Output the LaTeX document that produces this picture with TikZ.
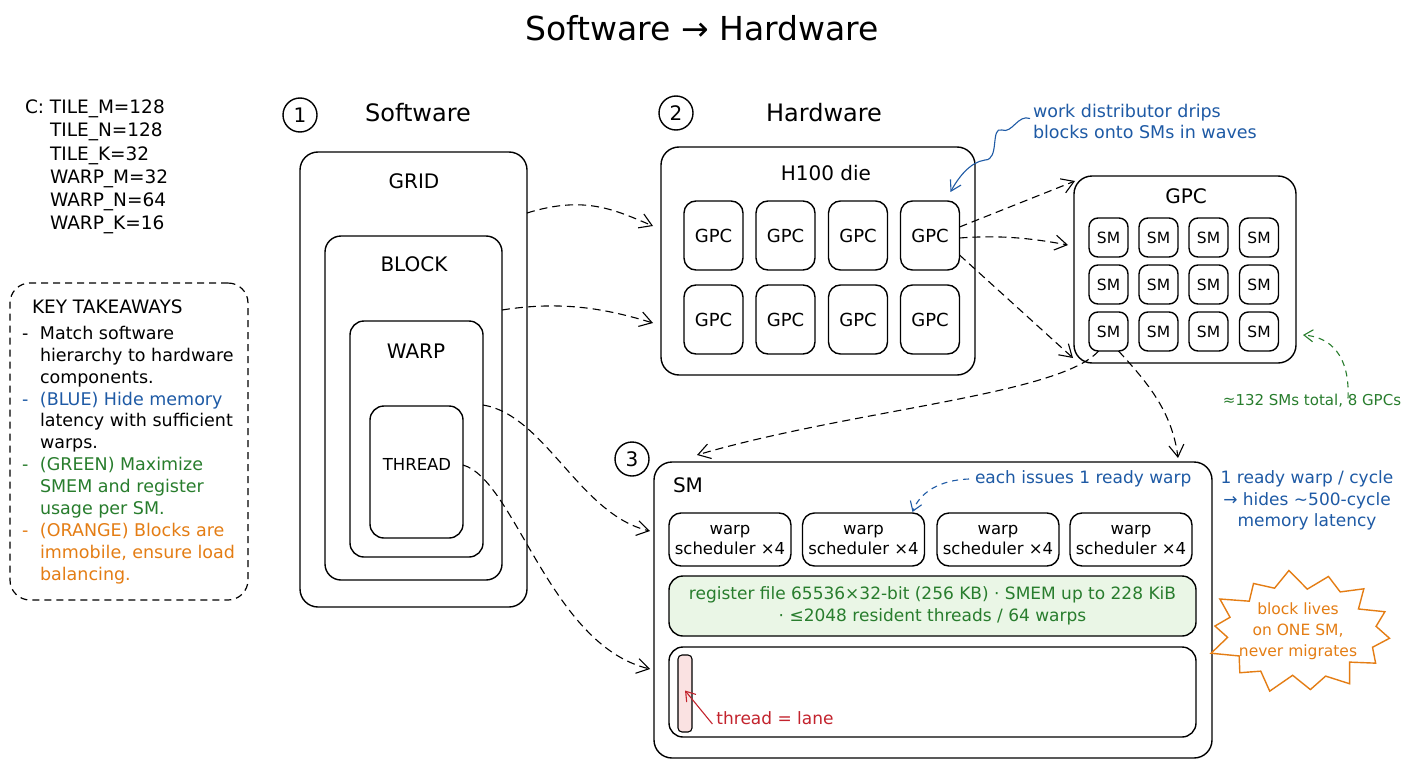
\documentclass[tikz,border=0pt]{standalone}
\usepackage{fontspec}
\setmainfont{DejaVu Sans}
\usetikzlibrary{arrows.meta,calc}
\definecolor{cblue}{RGB}{30,90,165}
\definecolor{cgreen}{RGB}{40,125,45}
\definecolor{corange}{RGB}{228,125,20}
\definecolor{cred}{RGB}{195,35,45}
\definecolor{regfill}{RGB}{234,246,230}
\definecolor{lanefill}{RGB}{250,226,226}
\newcommand{\fs}[2]{\fontsize{#1}{#2}\selectfont}
\begin{document}
\begin{tikzpicture}[x=1pt,y=-1pt,
 every node/.style={inner sep=0pt, outer sep=0pt},
 box/.style={draw=black, line width=1.4pt, rounded corners=#1, fill=white},
 box/.default=14pt,
 sz/.style 2 args={minimum width=#1pt, minimum height=#2pt},
 conn/.style={draw=black, line width=1.1pt, dash pattern=on 8pt off 5pt, -{Straight Barb[length=12pt,width=15pt]}},
 num/.style={draw, circle, line width=1.4pt, minimum size=34pt, font=\fs{20}{24}},
 lbl/.style={font=\fs{20}{24}},
 txt/.style={font=\fs{17.5}{21.9}, align=left},
]
\fill[white] (0,0) rectangle (1408,768);
\path[use as bounding box] (0,0) rectangle (1408,768);

% title
\node[font=\fs{33}{38}] (title) at (702,28) {Software → Hardware};

% C block
\node[anchor=north west, font=\fs{18.5}{23.2}, align=left] (cblock) at (25,100)
 {\makebox[25pt][l]{C:}TILE\_M=128\\
  \hspace*{25pt}TILE\_N=128\\
  \hspace*{25pt}TILE\_K=32\\
  \hspace*{25pt}WARP\_M=32\\
  \hspace*{25pt}WARP\_N=64\\
  \hspace*{25pt}WARP\_K=16};

% takeaways
\node[draw=black, line width=1.2pt, dash pattern=on 7pt off 5pt, rounded corners=20pt, sz={238}{317}] (keybox) at (129,441.5) {};
\node[font=\fs{18.5}{21.9}, anchor=west] (keyt) at (32,307) {KEY TAKEAWAYS};
\node[txt, anchor=north west] (keytxt) at (22,326)
 {\makebox[18pt][l]{-}Match software\\
  \hspace*{18pt}hierarchy to hardware\\
  \hspace*{18pt}components.\\
  {\color{cblue}\makebox[18pt][l]{-}(BLUE) Hide memory}\\
  \hspace*{18pt}latency with sufficient\\
  \hspace*{18pt}warps.\\
  {\color{cgreen}\makebox[18pt][l]{-}(GREEN) Maximize}\\
  {\color{cgreen}\hspace*{18pt}SMEM and register}\\
  {\color{cgreen}\hspace*{18pt}usage per SM.}\\
  {\color{corange}\makebox[18pt][l]{-}(ORANGE) Blocks are}\\
  {\color{corange}\hspace*{18pt}immobile, ensure load}\\
  {\color{corange}\hspace*{18pt}balancing.}};

% section headers
\node[num] (n1) at (300,115) {1};
\node[font=\fs{24}{28}] (swt) at (418,113) {Software};
\node[num] (n2) at (676,113) {2};
\node[font=\fs{24}{28}] (hwt) at (824,113) {Hardware};
\node[num] (n3) at (632,459) {3};

% software hierarchy
\node[box=18pt, sz={227}{455}] (grid) at (413.5,379.5) {};
\node[lbl] (gridt) at (414,181) {GRID};
\node[box=16pt, sz={177}{344}] (block) at (413.5,408) {};
\node[lbl] (blockt) at (414,264) {BLOCK};
\node[box=14pt, sz={133}{236}] (warp) at (416.5,439) {};
\node[lbl] (warpt) at (416,351) {WARP};
\node[box=14pt, sz={93}{132}] (thread) at (416.5,472) {};
\node[font=\fs{16.5}{20}] (threadt) at (417,464) {THREAD};

% H100 die
\node[box=18pt, sz={314}{228}] (die) at (818,261) {};
\node[lbl] (diet) at (826,173) {H100 die};
\foreach \i/\x in {1/713.5,2/785.5,3/858,4/930}{
  \node[box=12pt, sz={59}{69}, font=\fs{18}{22}] (g\i) at (\x,235.5) {GPC};
  \node[box=12pt, sz={59}{69}, font=\fs{18}{22}] (h\i) at (\x,319.5) {GPC};
}

% GPC big
\node[box=18pt, sz={222}{187}] (gpcbig) at (1185,269.5) {};
\node[lbl] (gpct) at (1186,196) {GPC};
\foreach \r/\y in {1/237.5,2/284.5,3/331.5}{
  \foreach \c/\x in {1/1108.5,2/1158.5,3/1208.5,4/1259}{
    \node[box=9pt, sz={39}{39}, font=\fs{15.5}{18}] (sm\r\c) at (\x,\y) {SM};
  }
}

% SM big
\node[box=18pt, sz={558}{296}] (sm) at (933,610) {};
\node[font=\fs{20}{24}] (smt) at (688,485) {SM};
\foreach \i/\x in {1/730,2/863.5,3/998,4/1131}{
  \node[box=12pt, sz={122}{53}, font=\fs{16.5}{20}, align=center] (ws\i) at (\x,539.5) {warp\\scheduler ×4};
}
\node[box=14pt, sz={527}{60}, fill=regfill, text=cgreen, align=center, font=\fs{17}{22}] (reg) at (932.5,606)
 {register file 65536×32-bit (256 KB) · SMEM up to 228 KiB\\· ≤2048 resident threads / 64 warps};
\node[box=14pt, sz={527}{90}] (lane) at (932.5,692) {};
\node[draw=black, line width=1.1pt, rounded corners=4pt, fill=lanefill, sz={14}{77}] (tl) at (685,693.5) {};
\node[font=\fs{17}{20}, text=cred] (lanet) at (775,718) {thread = lane};

% annotations
\node[anchor=west, font=\fs{17.5}{21}, text=cblue, align=left] (wd) at (1033,121.5)
 {work distributor drips\\blocks onto SMs in waves};
\node[font=\fs{15}{18}, text=cgreen] (smtot) at (1312,401) {≈132 SMs total, 8 GPCs};
\node[anchor=west, font=\fs{17}{20}, text=cblue] (issues) at (975,479) {each issues 1 ready warp};
\node[font=\fs{17}{21.5}, text=cblue, align=center] (ready) at (1307,500.5)
 {1 ready warp / cycle\\→ hides \textasciitilde500-cycle\\memory latency};

% starburst
\draw[corange, line width=1.4pt, fill=white, line join=miter]
  plot[samples at={0,...,27}]
  ({1300+(mod(\x,2)==0?90:73)*(1+0.05*sin(\x*97))*cos(\x*360/28+6)},
   {632+(mod(\x,2)==0?60:45)*(1+0.05*sin(\x*97))*sin(\x*360/28+6)}) -- cycle;
\node[text=corange, align=center, font=\fs{15.5}{21}] (burstt) at (1298,631) {block lives\\on ONE SM,\\never migrates};

% connectors software -> hardware
\draw[conn] ([yshift=-61pt]grid.north east) .. controls (585,195) and (615,210) .. ([xshift=-8pt,yshift=-79pt]die.north west);
\draw[conn] ([yshift=-74pt]block.north east) .. controls (565,300) and (610,310) .. ([xshift=-8pt,yshift=-176pt]die.north west);
\draw[conn] ([yshift=-84pt]warp.north east) .. controls (545,415) and (580,515) .. ([xshift=-4pt,yshift=-69pt]sm.north west);
\draw[conn] ([yshift=-59pt]thread.north east) .. controls (515,480) and (550,645) .. ([xshift=-4pt,yshift=-207pt]sm.north west);

% GPC -> GPC big
\draw[conn] ([yshift=-26pt]g4.north east) -- ([xshift=1pt,yshift=-5pt]gpcbig.north west);
\draw[conn] ([yshift=-37pt]g4.north east) .. controls (1000,235) and (1030,238) .. ([xshift=-6pt,yshift=-69pt]gpcbig.north west);
\draw[conn] ([yshift=-54pt]g4.north east) -- ([xshift=-1pt,yshift=5pt]gpcbig.south west);

% SM -> SM big
\draw[conn] ([xshift=-10pt]sm31.south) .. controls (1060,395) and (850,410) .. ([xshift=43pt,yshift=7pt]sm.north west);
\draw[conn] ([xshift=10pt]sm31.south) .. controls (1145,380) and (1172,410) .. ([xshift=-34pt,yshift=4pt]sm.north east);

% annotation arrows
\draw[cblue, line width=1.1pt, -{Straight Barb[length=10pt,width=12pt]}]
  ([xshift=-3pt,yshift=3pt]wd.west) .. controls (1018,114) and (1012,134) .. (1002,130)
  .. controls (990,126) and (1000,160) .. (985,160)
  .. controls (970,162) and (958,178) .. ([xshift=-9pt,yshift=9pt]g4.north east);
\draw[cgreen, line width=1.1pt, dash pattern=on 6pt off 5pt, -{Straight Barb[length=9pt,width=12pt]}]
  ([xshift=36pt,yshift=-4pt]smtot.north) .. controls (1350,355) and (1330,337) .. ([xshift=7pt,yshift=-159pt]gpcbig.north east);
\draw[cblue, line width=1.1pt, dash pattern=on 6pt off 5pt, -{Straight Barb[length=9pt,width=12pt]}]
  ([xshift=-6pt]issues.west) .. controls (940,480) and (920,492) .. ([xshift=-12pt,yshift=1pt]ws2.north east);
\draw[cred, line width=1.1pt, -{Straight Barb[length=9pt,width=12pt]}]
  ([xshift=-4pt,yshift=-6pt]lanet.west) -- ([yshift=3pt]tl.center);
\end{tikzpicture}
\end{document}
